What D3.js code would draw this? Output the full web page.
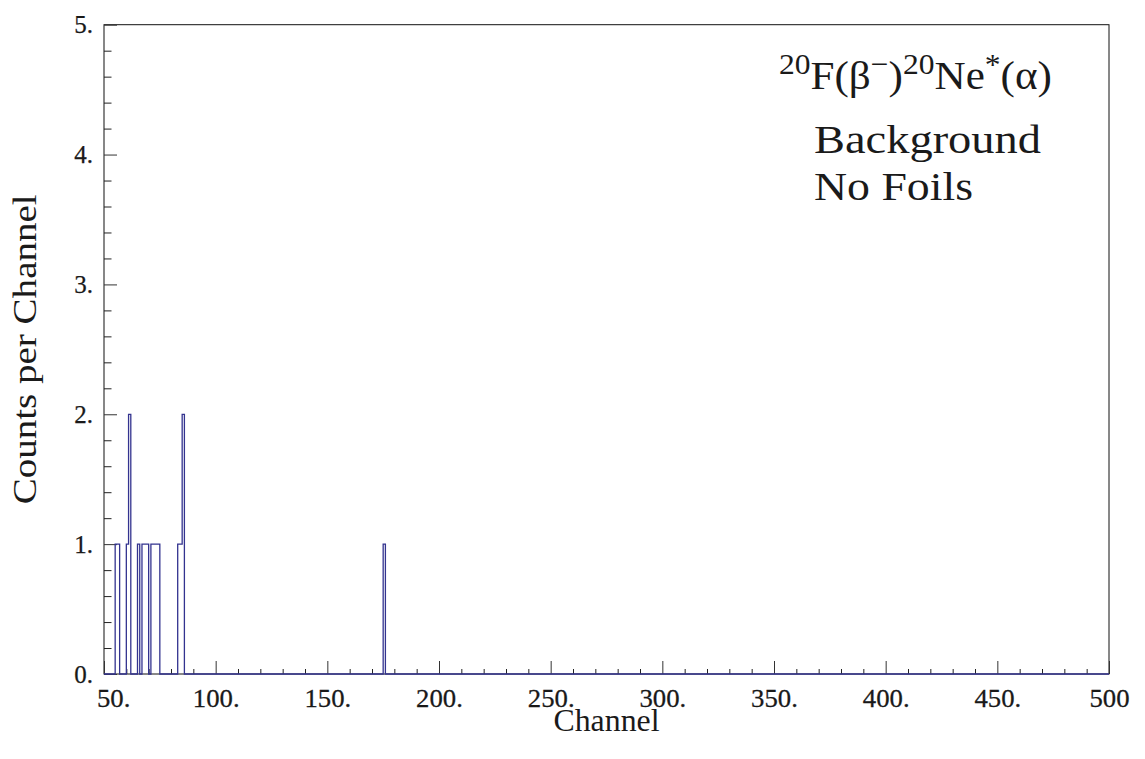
<!DOCTYPE html>
<html>
<head>
<meta charset="utf-8">
<script src="https://cdn.jsdelivr.net/npm/d3@7"></script>
<style>
  html, body { margin: 0; padding: 0; background: #fff; }
  svg { display: block; }
  text { font-family: "Liberation Serif", "DejaVu Serif", serif; fill: #1a1a1a; }
</style>
</head>
<body>
<svg id="chart" width="1145" height="759"></svg>
<script>
// Channels with non-zero counts (all other channels are empty)
const channels = [55, 56, 60, 61, 65, 67, 68, 69, 71, 72, 73, 74, 83, 84, 85, 175];
const counts   = [ 1,  1,  1,  2,  1,  1,  1,  1,  1,  1,  1,  1,  1,  1,  2,   1];

const xMajorTicks  = [50, 100, 150, 200, 250, 300, 350, 400, 450, 500];
const xTickLabels  = ["50.", "100.", "150.", "200.", "250.", "300.", "350.", "400.", "450.", "500"];
const yMajorTicks  = [0, 1, 2, 3, 4, 5];
const yTickLabels  = ["0.", "1.", "2.", "3.", "4.", "5."];

const xTitle = "Channel";
const yTitle = "Counts per Channel";
const noteLines = ["Background", "No Foils"];

const svg = d3.select("#chart");

const plotL = 104, plotR = 1109, plotT = 24.7, plotB = 674;
const x = d3.scaleLinear().domain([50, 500]).range([plotL, plotR]);
const y = d3.scaleLinear().domain([0, 5]).range([plotB, plotT]);

// frame
svg.append("rect")
  .attr("x", plotL).attr("y", plotT)
  .attr("width", plotR - plotL).attr("height", plotB - plotT)
  .attr("fill", "none").attr("stroke", "#111").attr("stroke-width", 1);

// minor ticks
const xMinor = d3.range(60, 500, 10).filter(v => v % 50 !== 0);
const yMinor = d3.range(0, 5.001, 0.2).map(v => +v.toFixed(1)).filter(v => Math.abs(v - Math.round(v)) > 1e-6);

svg.append("g")
  .attr("transform", `translate(0,${plotB})`)
  .call(d3.axisBottom(x).tickValues(xMinor).tickSize(-5).tickFormat(""))
  .call(g => g.select(".domain").remove())
  .call(g => g.selectAll("line").attr("stroke", "#222"));

svg.append("g")
  .attr("transform", `translate(${plotL},0)`)
  .call(d3.axisLeft(y).tickValues(yMinor).tickSize(-7.5).tickFormat(""))
  .call(g => g.select(".domain").remove())
  .call(g => g.selectAll("line").attr("stroke", "#222"));

// major ticks with labels
const gx = svg.append("g")
  .attr("transform", `translate(0,${plotB})`)
  .call(d3.axisBottom(x).tickValues(xMajorTicks).tickSize(-13).tickPadding(15)
        .tickFormat((d, i) => xTickLabels[i]))
  .call(g => g.select(".domain").remove());
gx.selectAll("line").attr("stroke", "#333");
gx.selectAll("text")
  .attr("font-size", 25).attr("font-family", "Liberation Serif").attr("fill", "#141414")
  .attr("stroke", "#141414").attr("stroke-width", 0.25)
  .attr("transform", "scale(1.07,1)")
  // the first label sits just right of the corner so it clears the "0." label
  .attr("dx", (d, i) => i === 0 ? 8.5 : 0);

const gy = svg.append("g")
  .attr("transform", `translate(${plotL},0)`)
  .call(d3.axisLeft(y).tickValues(yMajorTicks).tickSize(-13).tickPadding(11)
        .tickFormat((d, i) => yTickLabels[i]))
  .call(g => g.select(".domain").remove());
gy.selectAll("line").attr("stroke", "#333");
gy.selectAll("text")
  .attr("font-size", 25).attr("font-family", "Liberation Serif").attr("fill", "#141414")
  .attr("stroke", "#141414").attr("stroke-width", 0.25);

// histogram: one value per channel from 50 to 499, zero where no counts
const countByChannel = new Map(channels.map((c, i) => [c, counts[i]]));
const series = d3.range(50, 500).map(c => ({ c, n: countByChannel.get(c) || 0 }));
series.push({ c: 500, n: 0 });

const line = d3.line()
  .x(d => x(d.c))
  .y(d => y(d.n))
  .curve(d3.curveStepAfter);

svg.append("path")
  .datum(series)
  .attr("d", line)
  .attr("fill", "none")
  .attr("stroke", "#33338f")
  .attr("stroke-width", 1.3);

// axis titles
svg.append("text")
  .attr("x", (plotL + plotR) / 2).attr("y", 731)
  .attr("text-anchor", "middle")
  .attr("font-size", 32)
  .attr("textLength", 106).attr("lengthAdjust", "spacingAndGlyphs")
  .text(xTitle);

svg.append("text")
  .attr("transform", `translate(36,${(plotT + plotB) / 2}) rotate(-90)`)
  .attr("text-anchor", "middle")
  .attr("font-size", 33)
  .attr("textLength", 310).attr("lengthAdjust", "spacingAndGlyphs")
  .text(yTitle);

// reaction label with superscripts
const title = svg.append("text")
  .attr("x", 779).attr("y", 89.3)
  .attr("font-size", 41);
const parts = [
  { t: "20", sup: true }, { t: "F(β", sup: false }, { t: "−", sup: true },
  { t: ")", sup: false }, { t: "20", sup: true }, { t: "Ne", sup: false },
  { t: "*", sup: true }, { t: "(α)", sup: false }
];
let raised = false;
parts.forEach(p => {
  const ts = title.append("tspan").text(p.t);
  if (p.sup) {
    ts.attr("font-size", 30);
    if (!raised) { ts.attr("dy", -15); raised = true; }
  } else if (raised) {
    ts.attr("dy", 15); raised = false;
  }
});
const tw = title.node().getBBox().width;
const sx = (1052 - 779) / tw;
title.attr("transform", `translate(779,0) scale(${sx},1) translate(-779,0)`);

// note lines
const noteY = [153.3, 200];
const noteW = [227, 159];
noteLines.forEach((s, i) => {
  svg.append("text")
    .attr("x", 814).attr("y", noteY[i])
    .attr("font-size", 40)
    .attr("textLength", noteW[i]).attr("lengthAdjust", "spacingAndGlyphs")
    .text(s);
});
</script>
</body>
</html>
